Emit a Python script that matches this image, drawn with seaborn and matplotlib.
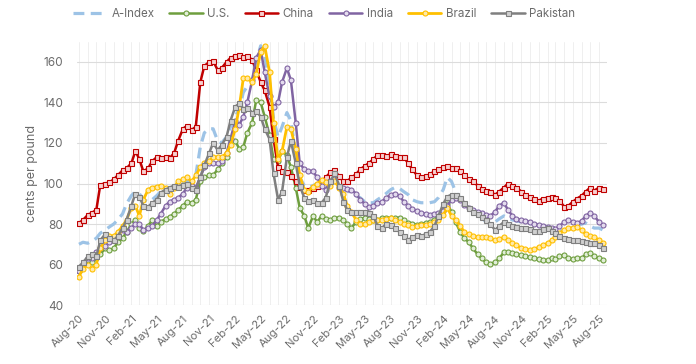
import matplotlib
matplotlib.use("Agg")
import matplotlib.pyplot as plt
import matplotlib.dates as mdates
from matplotlib.lines import Line2D
import numpy as np
import pandas as pd
import seaborn as sns

# ---------------- data (semi-monthly readings, cents per pound) ----------------
dates = pd.date_range("2020-08-01", periods=122, freq="SMS")

a_index = [70, 71, 70.5, 71.5, 73, 75.5, 77, 78.5, 80, 82,
           85, 90, 94, 96, 95, 92, 91, 92, 94, 96,
           97, 97, 98, 99, 100, 101, 101, 104, 118, 125,
           127, 127, 121, 120, 123, 128, 133, 137, 145, 148,
           150, 160, 168, 163, 150, 132, 123, 128, 135, 131,
           115, 103, 99, 98, 99, 100, 101, 100, 100, 101,
           99, 98, 97, 95, 94, 93, 91, 90.5, 90.5, 92,
           93.5, 95, 97, 98, 97.5, 96, 94.5, 92, 91, 90.5,
           90.5, 90.5, 91, 93, 97, 103, 101, 96, 92.5, 90,
           88, 87, 86, 83, 81, 80.5, 81, 82.5, 84, 83,
           82, 81.5, 81, 81, 80.5, 80, 79.5, 79, 78.5, 77.5,
           76.5, 76.5, 77, 77.5, 78.5, 79, 80, 80.5, 79, 78,
           78, 77]

us = [57, 60, 62, 61, 63, 65, 68, 67, 68, 71,
      73, 76, 80, 82, 78, 76.5, 79, 82, 79, 81,
      82.5, 83.5, 85, 87, 89, 91, 90.5, 92, 101, 103,
      104, 104, 107, 110, 113, 121, 121, 117, 118, 125,
      130, 141, 140, 133, 124, 112, 111, 116, 114, 108,
      98, 88, 84, 78, 84, 81, 84, 82.5, 82, 83,
      83, 82, 80, 78, 81, 82.5, 83, 82.5, 82, 82,
      83, 83, 83, 83, 83, 82, 80.5, 80, 79.5, 80,
      80.5, 81, 82, 84, 87, 90, 86, 81, 76, 73,
      71, 68, 65, 63, 61, 60.5, 61, 63, 66, 66,
      65.5, 65, 64.5, 64, 63.5, 63, 62.5, 62, 62, 63,
      62.5, 64, 64.5, 63, 62.5, 63, 63, 65, 65.5, 64,
      63, 62]

china = [80.5, 82, 84.5, 85.5, 87, 99.5, 100, 100.5, 102, 104,
         106.5, 107.5, 110, 116, 112, 106, 107.5, 111, 113, 112.5,
         113, 112.5, 115, 121, 127, 128.5, 126.5, 128, 150, 158,
         160, 160.5, 156, 157, 160, 162, 163, 163.5, 162.5, 163,
         161, 156, 150, 146, 138, 122, 108, 106, 105.5, 103.5,
         101, 98.5, 97, 97, 98, 99, 101, 103, 105.5, 106.5,
         103.5, 101, 101, 103, 104.5, 107, 108.5, 110, 112, 114,
         114, 113.5, 114.5, 113.5, 113, 113, 110, 107, 104, 103,
         103.5, 104.5, 106, 107, 108, 108.5, 107.5, 107.5, 106, 104,
         102, 101, 99, 97.5, 96.5, 96, 94.5, 96, 98, 100,
         99, 98, 96, 94.5, 93.5, 92.5, 91.5, 92.5, 93, 93.5,
         93, 91.5, 88.5, 89, 91, 92.5, 94, 96, 98, 96.5,
         98, 97.5]

india = [57, 60, 63, 63, 66, 68, 69, 71, 73, 75,
         77, 76, 78, 80, 80, 77, 78, 79, 82, 85,
         89, 91, 92, 93, 95, 98, 99, 98, 103, 108,
         110, 110, 110, 111, 115, 122, 131, 129, 133, 140,
         151, 162, 166, 155, 143, 138, 140, 150, 157, 151,
         130, 110, 107, 106, 106, 103, 99, 97, 101, 102,
         98.5, 98, 97.5, 97, 95, 92, 90, 88.5, 89, 90.5,
         91, 93, 94.5, 95, 94, 91, 89, 87.5, 86.5, 85.5,
         85, 84.5, 85, 85.5, 86.5, 89, 92, 93, 92, 89.5,
         88, 87, 86, 85.5, 84.5, 84, 86, 89, 90.5, 87,
         84, 82.5, 82, 81.5, 81, 80, 79.5, 79, 78.5, 78,
         77.5, 79, 81, 82, 81, 80.5, 81.5, 84, 85.5, 84,
         81, 79.5]

brazil = [54, 58, 60, 58, 60, 68, 72, 74, 74, 76,
          79, 82, 88, 89, 84, 92, 97, 98, 98.5, 99,
          98, 95, 98, 101, 102, 103, 101, 104, 108, 110,
          111, 113, 113, 113, 115, 119, 127, 138, 152, 152,
          150, 154, 165, 168, 155, 130, 112, 116, 128, 127,
          117, 104, 97, 96, 98.5, 100, 101.5, 100.5, 99, 101,
          98, 95, 89, 86, 82, 80, 80, 81, 82, 82,
          82, 82.5, 83, 82, 81, 80, 79.5, 78.5, 79, 79.5,
          79.5, 80, 81, 82, 84.5, 88, 84, 82, 79, 76,
          75, 74, 73.5, 73.5, 73.5, 73, 72, 72.5, 73.5, 72,
          70.5, 69.5, 68, 67.5, 67, 67.5, 68.5, 69.5, 70.5, 72,
          73.5, 75.5, 77, 78, 78, 78.5, 77, 75, 74, 73.5,
          72, 70.5]

pakistan = [59, 61, 64, 65, 64, 72, 75, 73, 72, 74,
            78, 82, 89, 95, 93.5, 89, 88.5, 90.5, 92, 95.5,
            97, 98, 99, 98.5, 99.5, 100, 98, 97, 103, 109,
            115, 120, 116.5, 119, 123, 131, 138, 139.5, 137, 137.5,
            135, 136, 133, 127, 122, 105, 92, 96, 113, 121,
            110, 99, 93, 91.5, 92, 90.5, 90.5, 93, 101, 105,
            99, 91, 87, 86, 86, 86, 86, 85.5, 84, 79,
            78, 80, 79.5, 78, 76, 74, 72, 73.5, 74.5, 74,
            75, 76, 79, 84, 90, 93.5, 94.5, 94.5, 93, 90.5,
            88, 86, 85, 83.5, 82, 80, 77, 79, 81, 80,
            79, 78.5, 78, 78, 77.5, 76.5, 76.5, 77.5, 78, 76.5,
            75.5, 74, 73, 72.5, 72, 72, 71.5, 71, 70.5, 70.5,
            69.5, 68]

series_names = ["A-Index", "U.S.", "China", "India", "Brazil", "Pakistan"]
y_ticks = [40, 60, 80, 100, 120, 140, 160]
x_tick_dates = pd.date_range("2020-08-01", "2025-08-01", freq="3MS")

# ---------------- style ----------------
sns.set_style("white")
plt.rcParams["font.family"] = ["Inter", "DejaVu Sans"]

TXT = "#6B6B6B"
styles = {
    "A-Index": dict(color="#9DC3E6", marker=None, ls=(0, (3.4, 2.0)), lw=2.3, mfc=None),
    "U.S.": dict(color="#6E9E3E", marker="o", ls="-", lw=1.8, mfc="#E2EED8"),
    "China": dict(color="#C00000", marker="s", ls="-", lw=1.8, mfc="#F6D0D0"),
    "India": dict(color="#8064A2", marker="o", ls="-", lw=1.8, mfc="#E4DCEE"),
    "Brazil": dict(color="#FFC000", marker="o", ls="-", lw=2.0, mfc="#FFE9A8"),
    "Pakistan": dict(color="#7F7F7F", marker="s", ls="-", lw=1.8, mfc="#D0D0D0"),
}
values = {"A-Index": a_index, "U.S.": us, "China": china,
          "India": india, "Brazil": brazil, "Pakistan": pakistan}

fig = plt.figure(figsize=(6.96, 3.64), dpi=100)
ax = fig.add_axes([0.1106, 0.162, 0.762, 0.7234])

handles = []
for name in series_names:
    st = styles[name]
    kw = dict(color=st["color"], linewidth=st["lw"], linestyle=st["ls"])
    if st["marker"]:
        kw.update(marker=st["marker"], markersize=3.6, markerfacecolor=st["mfc"],
                  markeredgecolor=st["color"], markeredgewidth=0.8)
    sns.lineplot(x=dates, y=values[name], ax=ax, legend=False, **kw)
    handles.append(Line2D([], [], label=name, **kw))

# axes
ax.set_ylim(40, 170)
ax.set_yticks(y_ticks)
ax.set_xlim(pd.Timestamp("2020-07-25"), pd.Timestamp("2025-08-30"))
ax.set_xticks(x_tick_dates)
ax.set_xticklabels([d.strftime("%b-%y") for d in x_tick_dates], rotation=45,
                   ha="right", rotation_mode="anchor")
ax.xaxis.set_minor_locator(mdates.MonthLocator())

for s in ax.spines.values():
    s.set_visible(False)
ax.grid(axis="y", which="major", color="#DCDCDC", lw=0.8)
ax.grid(axis="x", which="minor", color="#EFEFEF", lw=0.7)
ax.grid(axis="x", which="major", color="#EFEFEF", lw=0.7)
ax.set_axisbelow(True)
ax.tick_params(axis="y", length=0, pad=10, labelsize=8.5, labelcolor=TXT)
ax.tick_params(axis="x", which="major", length=4, direction="inout", color="#D0D0D0",
               pad=4, labelsize=8.2, labelcolor=TXT)
ax.tick_params(axis="x", which="minor", length=4, direction="inout", color="#D9D9D9")
ax.set_xlabel("")
ax.set_ylabel("cents per pound", fontsize=9, color=TXT, labelpad=4)

leg = fig.legend(handles=handles, loc="center", bbox_to_anchor=(0.466, 0.962), ncol=6,
                 frameon=False, fontsize=8.3, handlelength=2.9, handletextpad=0.4,
                 columnspacing=1.3, labelcolor=TXT)

fig.savefig("out.png", dpi=100)
